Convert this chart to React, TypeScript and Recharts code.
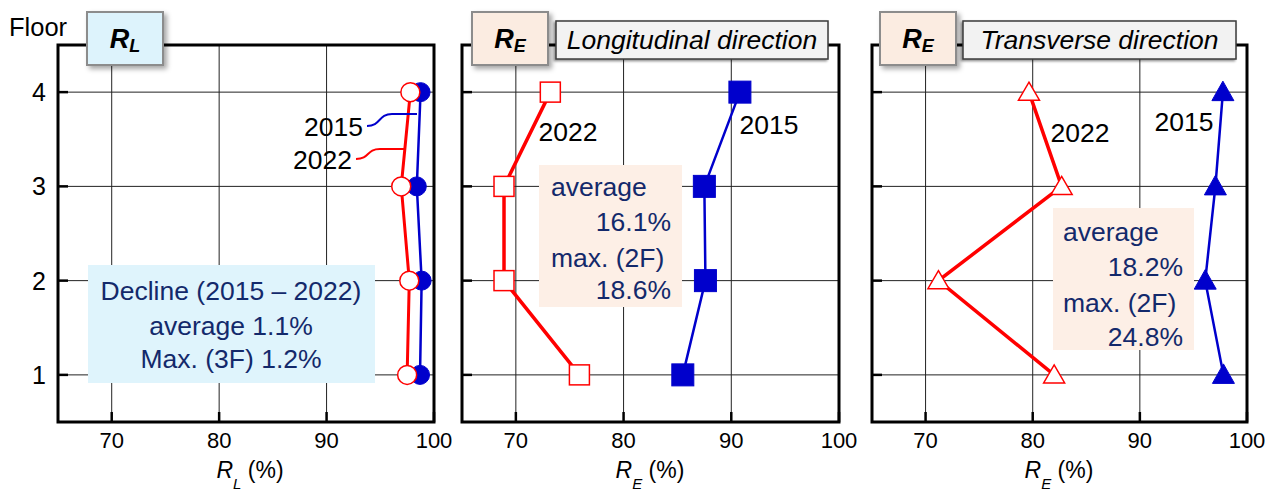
import React from 'react';
import { ScatterChart, Scatter, XAxis, YAxis, CartesianGrid, ReferenceArea } from 'recharts';

// ---- data ----
const floors = [1, 2, 3, 4];
const xTicks = [70, 80, 90, 100];
const xDomain = [65, 100];
const yDomain = [0.5, 4.5];

// R_L (%)
const rl2015 = [98.7, 98.85, 98.4, 98.75];
const rl2022 = [97.5, 97.7, 96.95, 97.8];
// R_E longitudinal (%)
const reLong2015 = [85.5, 87.6, 87.5, 90.8];
const reLong2022 = [75.9, 68.9, 68.9, 73.2];
// R_E transverse (%)
const reTrans2015 = [97.8, 96.1, 97.05, 97.75];
const reTrans2022 = [82.0, 71.2, 82.7, 79.65];

const toPoints = (vals: number[]) => floors.map((f, i) => ({ x: vals[i], y: f }));

const RED = '#ff0000';
const BLUE = '#0000cc';
const NAVY = '#13296b';
const FONT = '"Liberation Sans", Arial, sans-serif';
const AF = 26.5;

// ---- shapes ----
const openCircle = (p: any) => <circle cx={p.cx} cy={p.cy} r={9.5} fill="#fff" stroke={RED} strokeWidth={1.5} />;
const fillCircle = (p: any) => <circle cx={p.cx} cy={p.cy} r={9.5} fill={BLUE} stroke={BLUE} strokeWidth={1} />;
const openSquare = (p: any) => <rect x={p.cx - 10} y={p.cy - 10} width={20} height={20} fill="#fff" stroke={RED} strokeWidth={1.5} />;
const fillSquare = (p: any) => <rect x={p.cx - 11} y={p.cy - 11} width={22} height={22} fill={BLUE} stroke={BLUE} strokeWidth={1} />;
const openTri = (p: any) => (
  <polygon points={`${p.cx},${p.cy - 10} ${p.cx + 10.5},${p.cy + 8} ${p.cx - 10.5},${p.cy + 8}`} fill="#fff" stroke={RED} strokeWidth={1.5} />
);
const fillTri = (p: any) => (
  <polygon points={`${p.cx},${p.cy - 11} ${p.cx + 11},${p.cy + 8.5} ${p.cx - 11},${p.cy + 8.5}`} fill={BLUE} stroke={BLUE} strokeWidth={1} />
);

// ---- ticks ----
const makeYTick = (showLabel: boolean) => (props: any) => {
  const { x, y, payload } = props;
  return (
    <g>
      <line x1={x + 12} x2={x + 22} y1={y} y2={y} stroke="#000" strokeWidth={2.5} />
      {showLabel && (
        <text x={x} y={y} dy="0.36em" textAnchor="end" fontSize={25} fontFamily={FONT} fill="#000">
          {payload.value}
        </text>
      )}
    </g>
  );
};

const XTick = (props: any) => {
  const { x, y, payload } = props;
  return (
    <g>
      <line x1={x} x2={x} y1={y - 10} y2={y - 20} stroke="#000" strokeWidth={2.5} />
      <text x={x} y={y} dy="0.72em" textAnchor="middle" fontSize={22} fontFamily={FONT} fill="#000">
        {payload.value}
      </text>
    </g>
  );
};

type PanelProps = {
  left: number;
  width: number;
  yWidth: number;
  right: number;
  showY: boolean;
  a: { data: number[]; shape: any; color: string; lw: number };
  b: { data: number[]; shape: any; color: string; lw: number };
};

function Panel({ left, width, yWidth, right, showY, a, b }: PanelProps) {
  return (
    <div style={{ position: 'absolute', left, top: 0 }}>
      <ScatterChart width={width} height={496} margin={{ top: 45, right, bottom: 0, left: 0 }}>
        <CartesianGrid stroke="#222" strokeWidth={1} />
        <XAxis
          type="number"
          dataKey="x"
          domain={xDomain}
          ticks={xTicks}
          height={74}
          tickSize={0}
          tickMargin={10}
          tickLine={false}
          axisLine={false}
          tick={XTick}
          interval={0}
        />
        <YAxis
          type="number"
          dataKey="y"
          domain={yDomain}
          ticks={floors}
          width={yWidth}
          tickSize={0}
          tickMargin={12}
          tickLine={false}
          axisLine={false}
          tick={makeYTick(showY)}
          interval={0}
        />
        <ReferenceArea x1={65} x2={100} y1={0.5} y2={4.5} fill="none" fillOpacity={0} stroke="#000" strokeWidth={3} />
        <Scatter
          data={toPoints(a.data)}
          fill={a.color}
          line={{ stroke: a.color, strokeWidth: a.lw }}
          lineType="joint"
          shape={a.shape}
          isAnimationActive={false}
        />
        <Scatter
          data={toPoints(b.data)}
          fill={b.color}
          line={{ stroke: b.color, strokeWidth: b.lw }}
          lineType="joint"
          shape={b.shape}
          isAnimationActive={false}
        />
      </ScatterChart>
    </div>
  );
}

function TitleBadge({ x, sub, fill }: { x: number; sub: string; fill: string }) {
  return (
    <g>
      <rect x={x} y={12} width={76} height={53} fill={fill} stroke="#8c8c8c" strokeWidth={2} filter="url(#sh)" />
      <text x={x + 38} y={48} textAnchor="middle" fontFamily={FONT} fontWeight="bold" fontStyle="italic" fontSize={27} fill="#000">
        R<tspan fontSize={18} dy={4}>{sub}</tspan>
      </text>
    </g>
  );
}

function DirBox({ x, w, label }: { x: number; w: number; label: string }) {
  return (
    <g>
      <rect x={x} y={21} width={w} height={38} fill="#f2f2f2" stroke="#3a3a3a" strokeWidth={1.5} filter="url(#sh2)" />
      <text x={x + w / 2} y={49} textAnchor="middle" fontFamily={FONT} fontStyle="italic" fontSize={26.5} fill="#000">
        {label}
      </text>
    </g>
  );
}

function AxisLabel({ cx, sub }: { cx: number; sub: string }) {
  return (
    <text x={cx} y={478} textAnchor="middle" fontFamily={FONT} fontSize={23} fill="#000">
      <tspan fontStyle="italic">R</tspan>
      <tspan fontStyle="italic" fontSize={15} dy={11}>{sub}</tspan>
      <tspan dy={-11}> (%)</tspan>
    </text>
  );
}

export default function App() {
  return (
    <div style={{ position: 'absolute', left: 0, top: 0, width: 1277, height: 496, background: '#fff', overflow: 'hidden', fontFamily: FONT }}>
      <Panel
        left={0}
        width={460}
        yWidth={58}
        right={26}
        showY={true}
        a={{ data: rl2015, shape: fillCircle, color: BLUE, lw: 2.5 }}
        b={{ data: rl2022, shape: openCircle, color: RED, lw: 3 }}
      />
      <Panel
        left={440}
        width={420}
        yWidth={22}
        right={21}
        showY={false}
        a={{ data: reLong2022, shape: openSquare, color: RED, lw: 3.5 }}
        b={{ data: reLong2015, shape: fillSquare, color: BLUE, lw: 2.5 }}
      />
      <Panel
        left={850}
        width={427}
        yWidth={22}
        right={30}
        showY={false}
        a={{ data: reTrans2022, shape: openTri, color: RED, lw: 3.5 }}
        b={{ data: reTrans2015, shape: fillTri, color: BLUE, lw: 2.5 }}
      />
      <svg width={1277} height={496} style={{ position: 'absolute', left: 0, top: 0, pointerEvents: 'none' }}>
        <defs>
          <filter id="sh" x="-20%" y="-20%" width="150%" height="150%">
            <feDropShadow dx={3} dy={3} stdDeviation={2.5} floodColor="#000" floodOpacity={0.35} />
          </filter>
          <filter id="sh2" x="-10%" y="-20%" width="120%" height="150%">
            <feDropShadow dx={-1.5} dy={1.5} stdDeviation={1} floodColor="#000" floodOpacity={0.45} />
          </filter>
        </defs>

        {/* Floor label */}
        <text x={9} y={36} fontFamily={FONT} fontSize={25.5} fill="#000">Floor</text>

        {/* Titles */}
        <TitleBadge x={87} sub="L" fill="#ddf3fc" />
        <TitleBadge x={472} sub="E" fill="#fbece1" />
        <DirBox x={556} w={272} label="Longitudinal direction" />
        <TitleBadge x={880} sub="E" fill="#fbece1" />
        <DirBox x={963} w={273} label="Transverse direction" />

        {/* Panel 1 annotations */}
        <text x={363} y={136} textAnchor="end" fontFamily={FONT} fontSize={AF} fill="#000">2015</text>
        <path d="M 367 126 C 381 126, 378 114, 392 114 L 417 114" fill="none" stroke={BLUE} strokeWidth={2} />
        <text x={352} y={169} textAnchor="end" fontFamily={FONT} fontSize={AF} fill="#000">2022</text>
        <path d="M 356 159 C 370 159, 366 149, 380 149 L 405 149" fill="none" stroke={RED} strokeWidth={2} />

        <rect x={88} y={265} width={287} height={118} fill="#dff4fc" />
        <text x={231} y={300} textAnchor="middle" fontFamily={FONT} fontSize={AF} fill={NAVY}>Decline (2015 – 2022)</text>
        <text x={231} y={335} textAnchor="middle" fontFamily={FONT} fontSize={AF} fill={NAVY}>average 1.1%</text>
        <text x={231} y={368} textAnchor="middle" fontFamily={FONT} fontSize={AF} fill={NAVY}>Max. (3F) 1.2%</text>

        {/* Panel 2 annotations */}
        <text x={568} y={141} textAnchor="middle" fontFamily={FONT} fontSize={AF} fill="#000">2022</text>
        <text x={769} y={134} textAnchor="middle" fontFamily={FONT} fontSize={AF} fill="#000">2015</text>
        <rect x={539} y={165} width={143} height={142} fill="#fdefe6" />
        <text x={551} y={196} fontFamily={FONT} fontSize={AF} fill={NAVY}>average</text>
        <text x={671} y={231} textAnchor="end" fontFamily={FONT} fontSize={AF} fill={NAVY}>16.1%</text>
        <text x={551} y={267} fontFamily={FONT} fontSize={AF} fill={NAVY}>max. (2F)</text>
        <text x={671} y={299} textAnchor="end" fontFamily={FONT} fontSize={AF} fill={NAVY}>18.6%</text>

        {/* Panel 3 annotations */}
        <text x={1080} y={142} textAnchor="middle" fontFamily={FONT} fontSize={AF} fill="#000">2022</text>
        <text x={1184} y={131} textAnchor="middle" fontFamily={FONT} fontSize={AF} fill="#000">2015</text>
        <rect x={1053} y={208} width={141} height={142} fill="#fdefe6" />
        <text x={1063} y={241} fontFamily={FONT} fontSize={AF} fill={NAVY}>average</text>
        <text x={1183} y={276} textAnchor="end" fontFamily={FONT} fontSize={AF} fill={NAVY}>18.2%</text>
        <text x={1063} y={312} fontFamily={FONT} fontSize={AF} fill={NAVY}>max. (2F)</text>
        <text x={1183} y={346} textAnchor="end" fontFamily={FONT} fontSize={AF} fill={NAVY}>24.8%</text>

        {/* Axis labels */}
        <AxisLabel cx={250} sub="L" />
        <AxisLabel cx={650} sub="E" />
        <AxisLabel cx={1059} sub="E" />
      </svg>
    </div>
  );
}
